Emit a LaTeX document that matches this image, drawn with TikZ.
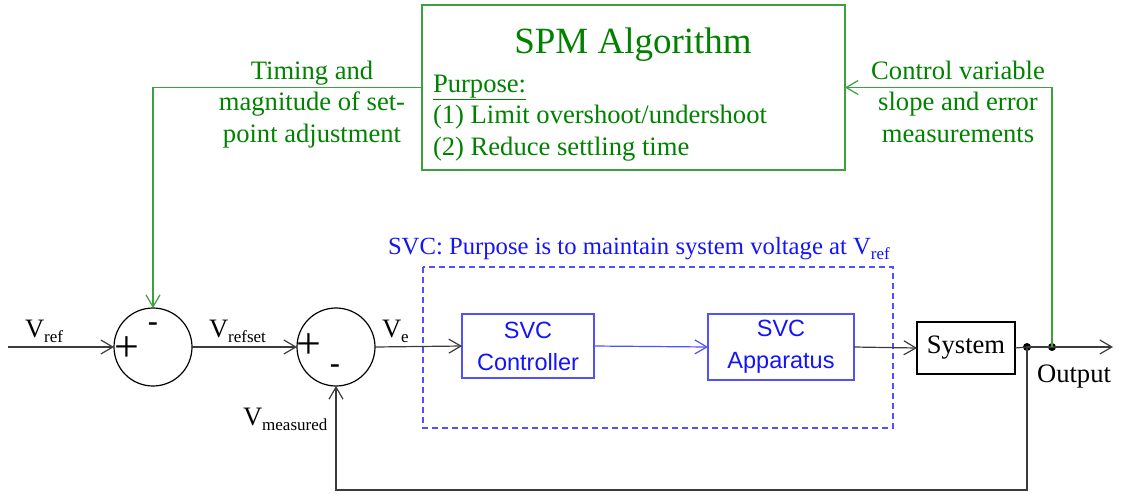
\documentclass[tikz,border=0pt]{standalone}
\usepackage{fontspec}
\setmainfont{Liberation Serif}
\newfontfamily\sansf{Liberation Sans}
\usetikzlibrary{arrows.meta}
\definecolor{lineblk}{RGB}{60,60,60}
\definecolor{svcblue}{RGB}{20,20,250}
\definecolor{boxblue}{RGB}{80,80,255}
\definecolor{spmgreen}{RGB}{0,130,0}
\definecolor{linegreen}{RGB}{60,160,60}
\newcommand\subtxt[1]{\raisebox{-5pt}{\fontsize{17}{17}\selectfont #1}}
\tikzset{
  every node/.style={inner sep=0pt, outer sep=0pt},
  body/.style={font=\fontsize{26.6}{31.5}\selectfont},
  conn/.style={draw=lineblk, line width=1.2pt, -{Straight Barb[length=12pt,width=14pt]}},
  plain/.style={draw=lineblk, line width=1.2pt},
  sumnode/.style={circle, draw=black, line width=1.2pt, minimum size=78pt},
  svcbox/.style={draw=boxblue, line width=1.2pt, text=svcblue, align=center,
    font=\sansf\fontsize{23.5}{32}\selectfont},
  dotnode/.style={circle, fill=black, minimum size=8pt},
  sign/.style={font=\fontsize{44}{44}\selectfont},
  msign/.style={font=\sansf\fontsize{32}{32}\selectfont},
  regionbox/.style={draw=boxblue, line width=1.3pt, dash pattern=on 6pt off 4pt},
}
\begin{document}
\begin{tikzpicture}[x=1pt,y=-1pt]
\useasboundingbox (0,0) rectangle (1123,493);
% nodes
\node[sumnode] (c1) at (153,347) {};
\node[sumnode] (c2) at (336,347) {};
\node[svcbox, minimum width=132pt, minimum height=64pt] (ctrl) at (528,346) {SVC\\Controller};
\node[svcbox, minimum width=146pt, minimum height=66pt] (app) at (781,347) {SVC\\Apparatus};
\node[draw=black, line width=1.2pt, minimum width=98pt, minimum height=52pt, body] (sys) at (966,348) {System};
\node[draw=linegreen, line width=1.2pt, minimum width=423pt, minimum height=165pt] (spm) at (633.5,87.5) {};
\node[dotnode] (d1) at (1027,347) {};
\node[dotnode] (d2) at (1052,347) {};
\coordinate (in) at (8,347);
\coordinate (out) at (1113,347);
\coordinate (fb) at (1027,490);
% dashed SVC region
\draw[regionbox] (423,267) rectangle (893,428);
% signs
\node[sign] (p1) at (127,349) {+};
\node[msign] (m1) at (153,328) {-};
\node[sign] (p2) at (309,346) {+};
\node[msign] (m2) at (335,370) {-};
% SPM text
\node[body, text=spmgreen, font=\fontsize{37}{40}\selectfont, anchor=base] (spmt) at (633,53) {SPM Algorithm};
\node[body, text=spmgreen, anchor=base west] (pur) at (433,92) {\underline{Purpose:}};
\node[body, text=spmgreen, anchor=base west] (p1t) at (433,123) {(1) Limit overshoot/undershoot};
\node[body, text=spmgreen, anchor=base west] (p2t) at (433,155) {(2) Reduce settling time};
% green labels
\node[body, text=spmgreen, align=center, anchor=base] (lt) at (312,142) {Timing and\\magnitude of set-\\point adjustment};
\node[body, text=spmgreen, align=center, anchor=base] (rt) at (958,142) {Control variable\\slope and error\\measurements};
% SVC title
\node[body, text=svcblue, font=\fontsize{24.7}{30}\selectfont, anchor=base west] (svct) at (388,254) {SVC: Purpose is to maintain system voltage at V\subtxt{ref}};
% signal labels
\node[body, anchor=base west] (lvref) at (25,337) {V\subtxt{ref}};
\node[body, anchor=base west] (lvrs) at (209,337) {V\subtxt{refset}};
\node[body, anchor=base west] (lve) at (382,337) {V\subtxt{e}};
\node[body, anchor=base west] (lvm) at (243,425) {V\subtxt{measured}};
\node[body, anchor=base] (lout) at (1074,382) {Output};
% connectors
\draw[conn] (in) -- (c1.west);
\draw[conn] (c1.east) -- (c2.west);
\draw[conn] (c2.east) -- (ctrl.west);
\draw[conn, draw=boxblue] (ctrl.east) -- (app.west);
\draw[conn] (app.east) -- (sys.west);
\draw[plain] (sys.east) -- (d1.center);
\draw[plain] (d1.center) -- (d2.center);
\draw[conn] (d2.center) -- (out);
\draw[conn] (d1.center) -- (fb) -| (c2.south);
\draw[conn, draw=linegreen] (d2.center) |- (spm.east);
\draw[conn, draw=linegreen] (spm.west) -| (c1.north);
\end{tikzpicture}
\end{document}
